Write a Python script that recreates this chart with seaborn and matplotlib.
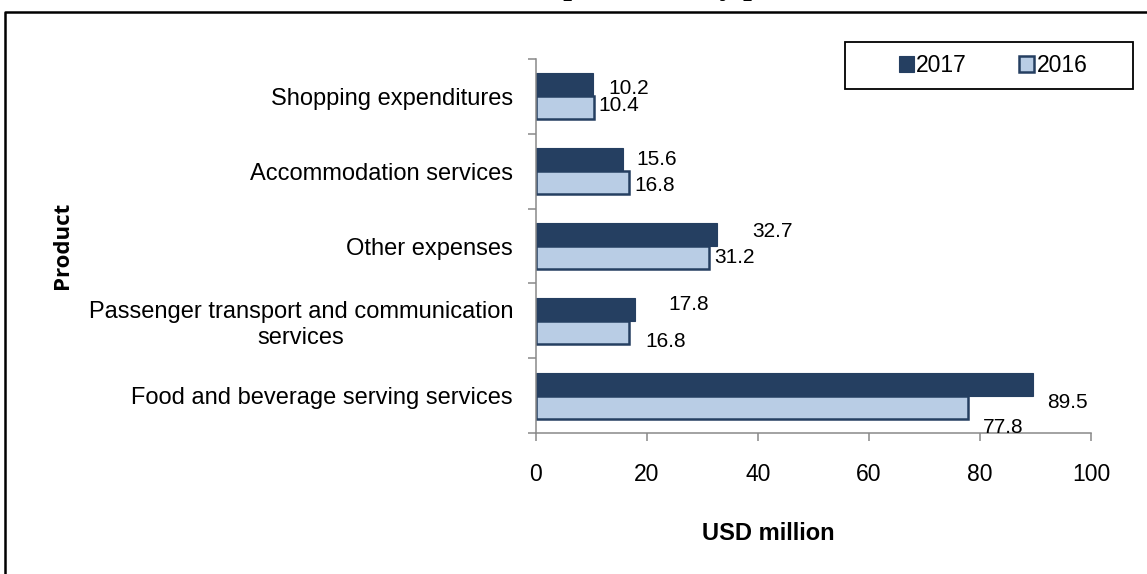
import pandas as pd
import seaborn as sns
import matplotlib.pyplot as plt
from matplotlib.lines import Line2D
from matplotlib.patches import Rectangle

# data
categories = ["Shopping expenditures", "Accommodation services", "Other expenses",
              "Passenger transport and communication services",
              "Food and beverage serving services"]
tick_text = ["Shopping expenditures", "Accommodation services", "Other expenses",
             "Passenger transport and communication\nservices",
             "Food and beverage serving services"]
values_2017 = [10.2, 15.6, 32.7, 17.8, 89.5]
values_2016 = [10.4, 16.8, 31.2, 16.8, 77.8]
years = ["2017", "2016"]
x_ticks = [0, 20, 40, 60, 80, 100]

# label nudges (pixels) - excel had them placed by hand
nudge_2017 = [(16, 4), (14, 0), (35, -3), (34, -5), (14, 18)]
nudge_2016 = [(5, -2), (5, 3), (5, 0), (16, 9), (15, 20)]

dark = "#253F61"
light = "#B9CDE5"

df = pd.DataFrame({
    "Product": categories * 2,
    "year": [years[0]] * len(categories) + [years[1]] * len(categories),
    "value": values_2017 + values_2016,
})

sns.set_style("white")
plt.rcParams['font.family'] = ['Liberation Sans', 'DejaVu Sans']
plt.rcParams.update({"text.color": "black", "axes.labelcolor": "black",
                     "xtick.color": "black", "ytick.color": "black"})

W, H = 1147, 574
fig = plt.figure(figsize=(W / 100, H / 100), dpi=100)
ax = fig.add_axes([536 / W, (H - 433) / H, 555 / W, 374 / H])

sns.barplot(data=df, y="Product", x="value", hue="year", order=categories,
            hue_order=years, palette={"2017": dark, "2016": light},
            orient="h", width=0.615, gap=0, legend=False, ax=ax, saturation=1)

for cont, year in zip(ax.containers, years):
    for p in cont:
        p.set_edgecolor(dark)
        p.set_linewidth(1.8 if year == "2016" else 0.8)

# value labels
for cont, vals, nudges in zip(ax.containers, [values_2017, values_2016], [nudge_2017, nudge_2016]):
    for p, v, (dx, dy) in zip(cont, vals, nudges):
        yc = p.get_y() + p.get_height() / 2
        ax.annotate(f"{v:.1f}", (v, yc), xytext=(dx, -dy), textcoords="offset pixels",
                    ha="left", va="center", fontsize=15, color="black")

ax.set_xlim(0, 100)
ax.set_ylim(len(categories) - 0.5, -0.5)
ax.set_xticks(x_ticks)
ax.set_xticklabels([str(t) for t in x_ticks], fontsize=16.5)
ax.set_yticks(range(len(categories)))
ax.set_yticklabels(tick_text, fontsize=17)
for t in ax.get_yticklabels():
    t.set_multialignment("center")
ax.set_yticks([i - 0.5 for i in range(len(categories) + 1)], minor=True)
ax.tick_params(axis="y", which="major", length=0, pad=16.5)
ax.tick_params(axis="y", which="minor", length=5.5, width=1.1, color="#898989", left=True)
ax.tick_params(axis="x", which="major", length=5.5, width=1.1, color="#898989",
               pad=16, bottom=True)

for s in ["top", "right"]:
    ax.spines[s].set_visible(False)
for s in ["left", "bottom"]:
    ax.spines[s].set_color("#898989")
    ax.spines[s].set_linewidth(1.1)

ax.set_xlabel("USD million", fontsize=17, fontweight="bold")
ax.xaxis.set_label_coords((768 - 536) / 555, -100 / 374)
ax.xaxis.label.set_va("center")
ax.set_ylabel("")
fig.text(62 / W, 1 - 245 / H, "Product", rotation=90, ha="center", va="center",
         fontsize=16, fontweight="bold", family=["Open Sans", "DejaVu Sans"])

# legend: entries without frame, box drawn separately (excel box is wider)
leg = fig.legend([c[0] for c in ax.containers], years, ncol=2, loc="center",
                 bbox_to_anchor=(993 / W, 1 - 65.5 / H), fontsize=16.5, frameon=False,
                 handlelength=0.65, handleheight=0.65, handletextpad=0.1,
                 columnspacing=2.3, borderpad=0)
fig.add_artist(Rectangle((845 / W, 1 - 89 / H), 288 / W, 47 / H, transform=fig.transFigure,
                         facecolor="none", edgecolor="black", linewidth=1.3))

# clipped title of the original page
fig.text(0.5, 1 + 6 / H, "Inbound tourism expenditure by product", ha="center",
         va="baseline", fontsize=22.7, fontweight="bold",
         family=["Liberation Serif", "DejaVu Serif"])

# outer frame (only left and top edges show)
fig.add_artist(Line2D([4.5 / W, 4.5 / W, 1.0], [0.0, 1 - 11.5 / H, 1 - 11.5 / H],
                      transform=fig.transFigure, color="black", linewidth=1.8))

fig.savefig("out.png", dpi=100)
